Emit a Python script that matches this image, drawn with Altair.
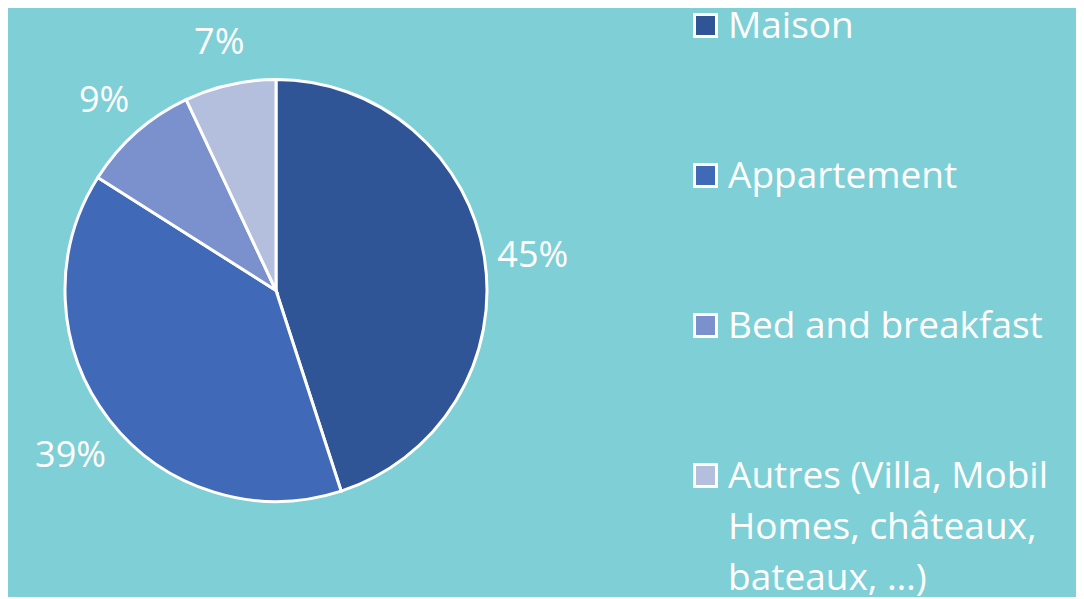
import altair as alt
import pandas as pd

categories = ["Maison", "Appartement", "Bed and breakfast", "Autres (Villa, Mobil Homes, châteaux, bateaux, …)"]
legend_labels = ["Maison", "Appartement", "Bed and breakfast", "Autres (Villa, Mobil\nHomes, châteaux,\nbateaux, …)"]
values = [45, 39, 9, 7]
pct_labels = ["45%", "39%", "9%", "7%"]
colors = ["#2F5597", "#4069B8", "#7A91CE", "#B4BEDD"]

df = pd.DataFrame({
    "cat": categories,
    "legend": legend_labels,
    "value": values,
    "pct": pct_labels,
    "idx": list(range(len(categories))),
})

BG = "#7FCFD6"
FONT = "Open Sans"
CX, CY, R = 268, 281.5, 211

color = alt.Color("cat:N", scale=alt.Scale(domain=categories, range=colors), legend=None)

base = alt.Chart(df)

pie = base.mark_arc(outerRadius=R, stroke="white", strokeWidth=3).encode(
    theta=alt.Theta("value:Q", stack=True),
    order=alt.Order("idx:Q"),
    color=color,
    x=alt.value(CX),
    y=alt.value(CY),
)

labels = base.mark_text(radius=260, dy=6, font=FONT, fontSize=36, color="white").encode(
    theta=alt.Theta("value:Q", stack=True),
    order=alt.Order("idx:Q"),
    text="pct:N",
    x=alt.value(CX),
    y=alt.value(CY),
)

yrow = alt.Y("idx:Q", axis=None, scale=alt.Scale(domain=[0, 3], range=[16.5, 466.5]))

squares = base.mark_square(size=484, stroke="white", strokeWidth=3, opacity=1).encode(
    x=alt.value(697.5),
    y=yrow,
    color=color,
)

leg_text = base.mark_text(
    align="left", baseline="alphabetic", dy=12.5, font=FONT, fontSize=37,
    color="white", lineBreak="\n", lineHeight=51,
).encode(
    x=alt.value(720),
    y=yrow,
    text="legend:N",
)

chart = alt.layer(pie, labels, squares, leg_text).properties(
    width=1068, height=583, padding=0, background=BG
).configure_view(stroke=None)

chart.save("out.html", embed_options={"renderer": "svg", "actions": False})
